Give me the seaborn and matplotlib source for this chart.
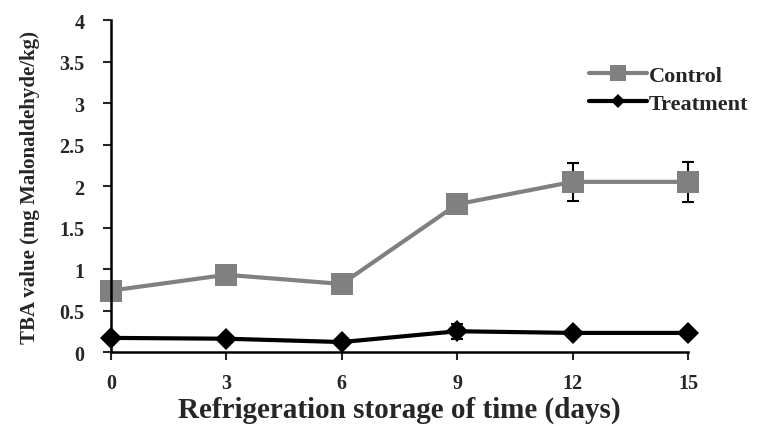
import matplotlib
matplotlib.use("Agg")
import matplotlib.pyplot as plt
import seaborn as sns
import pandas as pd
import numpy as np

days = [0, 3, 6, 9, 12, 15]
control = [0.74, 0.93, 0.82, 1.78, 2.05, 2.05]
control_err = [0.03, 0.03, 0.03, 0.04, 0.23, 0.24]
treatment = [0.17, 0.16, 0.12, 0.25, 0.23, 0.23]
treatment_err = [0.02, 0.04, 0.02, 0.09, 0.01, 0.01]
yticks = [0, 0.5, 1, 1.5, 2, 2.5, 3, 3.5, 4]
yticklabels = ["0", "0.5", "1", "1.5", "2", "2.5", "3", "3.5", "4"]

sns.set_style("ticks")
plt.rcParams['font.family'] = ['Liberation Serif', 'DejaVu Serif']

df = pd.DataFrame({
    "day": days * 2,
    "value": control + treatment,
    "group": ["Control"] * len(days) + ["Treatment"] * len(days),
})

fig = plt.figure(figsize=(7.73, 4.27), dpi=100)
ax = fig.add_axes([0.1436, 0.1733, 0.7464, 0.7775])

palette = {"Control": "#808080", "Treatment": "#000000"}
sns.lineplot(data=df, x="day", y="value", hue="group", style="group",
             markers={"Control": "s", "Treatment": "D"}, dashes=False,
             palette=palette, linewidth=3, ax=ax, clip_on=False,
             markeredgewidth=0, legend=True)
lines = ax.get_lines()
lines[0].set_markersize(16)
lines[1].set_markersize(11)

handles, labels = ax.get_legend_handles_labels()
if ax.get_legend() is not None:
    ax.get_legend().remove()

ax.errorbar(days, control, yerr=control_err, fmt="none", ecolor="black",
            elinewidth=1.5, capsize=4, capthick=1.5, zorder=1, clip_on=False)
ax.errorbar(days, treatment, yerr=treatment_err, fmt="none", ecolor="black",
            elinewidth=1.5, capsize=4, capthick=1.5, zorder=1, clip_on=False)

ax.set_xlim(0, 15)
ax.set_ylim(0, 4)
ax.set_xticks(days)
ax.set_xticklabels([str(d) for d in days], fontsize=14.5, fontweight="bold")
ax.set_yticks(yticks)
ax.set_yticklabels(yticklabels, fontsize=14.5, fontweight="bold")
ax.tick_params(axis="both", direction="out", length=6, width=1.5)
ax.tick_params(axis="y", pad=13)
ax.tick_params(axis="x", pad=9)
for s in ["top", "right"]:
    ax.spines[s].set_visible(False)
for s in ["left", "bottom"]:
    ax.spines[s].set_linewidth(1.8)
    ax.spines[s].set_color("black")

ax.set_xlabel("Refrigeration storage of time (days)", fontsize=21,
              fontweight="bold", labelpad=2)
ax.set_ylabel("TBA value (mg Malonaldehyde/kg)", fontsize=15,
              fontweight="bold", labelpad=14)

pairs = [(h, l) for h, l in zip(handles, labels) if l in ("Control", "Treatment")]
leg = fig.legend(handles=[p[0] for p in pairs], labels=[p[1] for p in pairs],
                 loc="upper left", bbox_to_anchor=(0.762, 0.845), frameon=False,
                 prop={"weight": "bold", "size": 16}, handlelength=2.6,
                 handletextpad=0.1, borderaxespad=0, borderpad=0,
                 labelspacing=0.35)
for h in leg.legend_handles:
    h.set_linewidth(3)
leg.legend_handles[0].set_markersize(11)
leg.legend_handles[1].set_markersize(7)

fig.savefig("out.png", dpi=100)
